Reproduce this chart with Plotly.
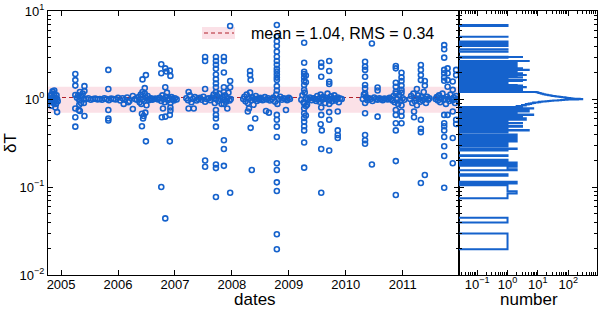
import numpy as np
import plotly.graph_objects as go

# ---------------- data ----------------
MEAN = 1.04
RMS = 0.34
BIN_W = 0.005          # linear histogram bin width in dT

# outlying measurements (date in decimal years, dT)
out_dates = ([2004.93, 2004.85, 2004.90, 2004.83, 2004.88]
             + [2005.25] * 7 + [2005.33, 2005.33, 2005.31] + [2005.41] * 3 + [2005.40]
             + [2005.83] * 5 + [2006.10, 2006.26, 2006.26, 2006.18]
             + [2006.43, 2006.49, 2006.47, 2006.42, 2006.45, 2006.48, 2006.44, 2006.42, 2006.49]
             + [2006.76, 2006.76, 2006.83, 2006.85, 2006.91, 2006.92, 2006.83, 2006.79, 2006.77,
                2006.83, 2006.91, 2006.92, 2006.92, 2006.91, 2006.76, 2006.83]
             + [2007.24, 2007.24, 2007.33] + [2007.53] * 5 + [2007.72] * 16 + [2007.86] * 9
             + [2007.97] * 4 + [2007.92]
             + [2008.32, 2008.32, 2008.33, 2008.33, 2008.35, 2008.41, 2008.30, 2008.28]
             + [2008.79] * 23 + [2008.60, 2008.65, 2008.95]
             + [2009.27] * 17 + [2009.30] * 4 + [2009.57] * 7 + [2009.56, 2009.58]
             + [2009.71] * 8 + [2009.86] * 4
             + [2010.34] * 11 + [2010.46] * 2 + [2010.56] * 3 + [2010.88] * 11 + [2010.98] * 9
             + [2011.32] * 8 + [2011.39] * 3 + [2011.20] * 2 + [2011.25]
             + [2011.73] * 15 + [2011.79] * 5 + [2011.88] * 5 + [2011.94] * 4)

out_dT = ([0.71, 1.22, 0.80, 0.84, 1.25]
          + [1.92, 1.64, 1.42, 1.11, 0.78, 0.62, 0.485] + [1.20, 0.73, 0.75] + [1.40, 1.23, 0.64] + [0.90]
          + [2.14, 1.30, 0.75, 0.60, 0.57] + [0.88, 1.08, 0.77, 0.92]
          + [1.67, 1.87, 1.33, 0.68, 0.64, 0.70, 0.60, 0.49, 0.33]
          + [2.48, 1.96, 2.23, 2.05, 2.10, 1.83, 1.36, 0.78, 0.62,
             0.63, 0.66, 0.74, 0.80, 0.33, 0.10, 0.044]
          + [1.20, 0.78, 0.78] + [3.00, 2.70, 1.30, 0.20, 0.17]
          + [3.00, 2.70, 2.45, 2.20, 1.90, 1.68, 1.50, 1.36, 1.20, 0.75, 0.66, 0.60, 0.485, 0.18, 0.164, 0.077]
          + [3.00, 2.70, 2.00, 1.36, 1.20, 0.88, 0.34, 0.27, 0.174]
          + [6.75, 1.60, 1.36, 0.086] + [0.78]
          + [2.08, 1.87, 1.65, 0.47, 0.156, 0.60, 0.78, 0.72]
          + [6.93, 5.10, 4.50, 4.00, 3.45, 3.02, 2.70, 2.45, 2.20, 2.05, 1.90, 1.75, 1.64, 1.40,
             1.25, 0.66, 0.58, 0.485, 0.37, 0.186, 0.156, 0.113, 0.090]
          + [0.73, 0.70, 0.75]
          + [4.36, 2.58, 2.04, 1.92, 1.76, 1.61, 1.44, 1.27, 0.89, 0.78, 0.69, 0.61, 0.55, 0.49, 0.44, 0.32, 0.166]
          + [1.85, 1.55, 0.83, 0.65]
          + [2.58, 2.33, 1.79, 0.80, 0.66, 0.086, 0.27] + [0.516, 0.44]
          + [2.70, 2.08, 1.57, 1.48, 0.88, 0.71, 0.58, 0.26] + [0.72, 0.44, 0.39, 0.36]
          + [2.65, 2.33, 2.14, 1.79, 1.44, 1.32, 1.16, 0.69, 0.39, 0.34, 0.31] + [4.27, 0.18]
          + [1.35, 1.25, 0.63]
          + [2.37, 2.23, 1.53, 1.38, 1.21, 0.75, 0.66, 0.53, 0.44, 0.197, 0.081]
          + [1.99, 1.76, 1.60, 1.42, 1.27, 0.85, 0.72, 0.64, 0.53]
          + [2.43, 2.14, 1.87, 1.64, 0.58, 0.46, 0.42, 0.111] + [0.137, 1.60, 1.42] + [0.72, 0.62] + [1.30]
          + [4.10, 3.67, 2.95, 2.14, 1.96, 1.76, 1.61, 0.66, 0.53, 0.49, 0.44, 0.37, 0.29, 0.225, 0.098]
          + [2.23, 1.96, 1.64, 1.38, 0.66] + [1.58, 1.27, 0.72, 0.36, 0.186] + [2.14, 1.87, 0.58, 0.52])

# the two lowest 2008.79 points
low_dates = [2008.79, 2008.79]
low_dT = [0.029, 0.0196]

# dense core of measurements near dT = 1
core_dates = ([2004.79, 2004.80, 2004.81, 2004.82, 2004.83, 2004.84, 2004.85, 2004.86, 2004.87, 2004.88,
               2004.89, 2004.90, 2004.91, 2004.92, 2004.93, 2004.94]
              + [2005.28, 2005.32, 2005.36, 2005.40, 2005.44, 2005.48, 2005.52, 2005.56, 2005.60, 2005.64,
                 2005.68, 2005.72, 2005.76, 2005.80, 2005.84, 2005.88, 2005.92, 2005.96, 2006.00, 2006.04,
                 2006.08, 2006.12, 2006.16, 2006.20, 2005.30, 2005.35, 2005.38, 2005.32]
              + [2006.30, 2006.33, 2006.36, 2006.38, 2006.40, 2006.41, 2006.43, 2006.44, 2006.46, 2006.47,
                 2006.49, 2006.50, 2006.52, 2006.54, 2006.56, 2006.58, 2006.60, 2006.63, 2006.66, 2006.70,
                 2006.73, 2006.76, 2006.78, 2006.80, 2006.82, 2006.84, 2006.86, 2006.88, 2006.90, 2006.92,
                 2006.94, 2006.96, 2006.98, 2007.00, 2007.03]
              + [2007.20, 2007.23, 2007.26, 2007.29, 2007.32, 2007.35, 2007.38, 2007.41, 2007.44, 2007.47,
                 2007.50, 2007.53, 2007.56, 2007.59, 2007.62, 2007.65, 2007.68, 2007.70, 2007.72, 2007.74,
                 2007.76, 2007.78, 2007.80, 2007.82, 2007.84, 2007.86, 2007.88, 2007.90, 2007.92, 2007.94,
                 2007.96, 2007.98]
              + [2008.20, 2008.22, 2008.24, 2008.26, 2008.28, 2008.30, 2008.32, 2008.34, 2008.36, 2008.38,
                 2008.40, 2008.42, 2008.44, 2008.46, 2008.48, 2008.50, 2008.52, 2008.54, 2008.58, 2008.61,
                 2008.64, 2008.67, 2008.70, 2008.73, 2008.76, 2008.78, 2008.80, 2008.82, 2008.85, 2008.88,
                 2008.91, 2008.94, 2008.97, 2009.00, 2009.02]
              + [2009.22, 2009.24, 2009.26, 2009.28, 2009.30, 2009.32, 2009.34, 2009.37, 2009.40, 2009.43,
                 2009.46, 2009.48, 2009.50, 2009.52, 2009.54, 2009.56, 2009.58, 2009.60, 2009.62, 2009.64,
                 2009.66, 2009.68, 2009.70, 2009.72, 2009.74, 2009.76, 2009.78, 2009.80, 2009.82, 2009.84,
                 2009.86, 2009.88, 2009.90, 2009.93]
              + [2010.30, 2010.32, 2010.34, 2010.36, 2010.38, 2010.41, 2010.44, 2010.47, 2010.50, 2010.53,
                 2010.56, 2010.59, 2010.62, 2010.65, 2010.68, 2010.71, 2010.74, 2010.77, 2010.80, 2010.82,
                 2010.84, 2010.86, 2010.88, 2010.90, 2010.92, 2010.94, 2010.96, 2010.98, 2011.00, 2011.03]
              + [2011.13, 2011.15, 2011.17, 2011.19, 2011.21, 2011.23, 2011.25, 2011.27, 2011.29, 2011.31,
                 2011.33, 2011.35, 2011.37, 2011.39, 2011.41, 2011.43, 2011.45, 2011.47]
              + [2011.58, 2011.60, 2011.62, 2011.64, 2011.66, 2011.68, 2011.70, 2011.72, 2011.74, 2011.76,
                 2011.78, 2011.80, 2011.82, 2011.84, 2011.86, 2011.88, 2011.90, 2011.92, 2011.94, 2011.96,
                 2011.98])

core_dT = ([1.02, 0.95, 1.08, 0.98, 1.12, 0.92, 1.00, 1.05, 0.90, 1.15, 0.97, 1.03, 0.88, 1.10, 1.00, 0.94]
           + [1.03, 0.97, 1.06, 0.99, 1.00, 1.02, 0.98, 1.00, 1.01, 0.99, 1.00, 0.98, 1.02, 1.00, 0.97, 1.01,
              1.00, 0.99, 1.03, 0.96, 1.02, 0.98, 1.04, 0.95, 1.10, 0.90, 1.15, 0.86]
           + [1.00, 0.98, 1.05, 0.92, 1.12, 0.88, 1.20, 1.00, 0.95, 1.15, 1.03, 0.85, 1.08, 0.97, 1.00, 1.02,
              0.98, 1.00, 1.01, 0.99, 1.03, 0.95, 1.10, 1.00, 0.92, 1.06, 1.18, 0.97, 1.02, 0.90, 1.05, 1.00,
              0.96, 1.02, 0.99]
           + [1.02, 0.97, 1.10, 0.92, 1.00, 1.05, 0.96, 1.00, 1.03, 0.98, 1.06, 0.93, 1.00, 1.02, 0.97, 1.04,
              1.12, 0.90, 1.00, 1.08, 0.95, 1.15, 1.00, 0.88, 1.05, 0.98, 1.10, 0.93, 1.02, 1.18, 0.96, 1.00]
           + [1.00, 1.06, 0.94, 1.12, 0.90, 1.02, 1.18, 0.97, 1.04, 0.86, 1.00, 1.08, 0.95, 1.01, 0.98, 1.03,
              1.00, 0.97, 1.05, 0.99, 1.02, 0.96, 1.00, 1.04, 0.93, 1.12, 0.88, 1.00, 1.06, 0.98, 1.02, 1.00,
              0.97, 1.03, 1.00]
           + [0.98, 1.10, 0.92, 1.18, 1.02, 0.86, 1.00, 1.04, 0.97, 1.02, 1.00, 0.95, 1.08, 1.00, 0.93, 1.12,
              0.98, 1.05, 1.00, 0.90, 1.03, 1.15, 0.97, 1.00, 1.07, 0.94, 1.02, 1.10, 0.96, 1.00, 1.04, 0.92,
              1.01, 1.00]
           + [1.00, 1.12, 0.90, 1.05, 0.97, 1.02, 1.00, 0.95, 1.04, 1.00, 0.98, 1.02, 1.00, 0.97, 1.01, 1.00,
              0.99, 1.03, 1.00, 0.96, 1.08, 0.92, 1.15, 1.00, 0.88, 1.10, 0.95, 1.18, 1.02, 0.98]
           + [1.00, 1.08, 0.90, 1.15, 0.95, 1.02, 0.85, 1.10, 1.00, 0.93, 1.05, 0.97, 1.20, 1.00, 0.90, 1.06,
              0.98, 1.02]
           + [1.00, 1.05, 0.96, 1.10, 0.92, 1.02, 1.15, 0.98, 1.00, 0.88, 1.06, 1.00, 0.95, 1.12, 1.00, 0.97,
              1.04, 0.90, 1.08, 1.00, 0.96])

# histogram counts of the crowded core (bins of 0.005 starting at dT = 0.81)
core_lo = 0.81
core_counts = [2, 3, 2, 3, 2, 3, 3, 4, 3, 4, 4, 5, 4, 5, 6, 5, 6, 7, 8, 7,
               9, 10, 12, 11, 14, 16, 18, 22, 26, 32, 38, 46, 58, 72, 95, 140, 210, 290, 240, 180,
               150, 130, 115, 105, 95, 85, 78, 70, 62, 55, 48, 44, 40, 36, 33, 30, 28, 26, 24, 22,
               21, 20, 18, 17, 16, 15, 15, 14, 13, 13, 12, 12, 11, 11, 10, 10, 9, 9]

year_ticks = [2005, 2006, 2007, 2008, 2009, 2010, 2011]
date_range = [2004.77, 2011.99]
dT_ticks = [0.01, 0.1, 1, 10]
dT_labels = ["10<sup>−2</sup>", "10<sup>−1</sup>", "10<sup>0</sup>", "10<sup>1</sup>"]
n_ticks = [0.1, 1, 10, 100]
n_labels = ["10<sup>−1</sup>", "10<sup>0</sup>", "10<sup>1</sup>", "10<sup>2</sup>"]

# ---------------- figure ----------------
BLUE = "#1562CC"
FONT = "Liberation Sans, Arial, sans-serif"
W, H = 600, 309
T, B = 11, 34
PH = H - T - B


def px_x(p):
    return p / W


def px_y(p):
    return (H - B - p) / PH


all_dates = out_dates + low_dates + core_dates
all_dT = out_dT + low_dT + core_dT

# histogram (linear bins) of all values, core overridden by read counts
vals = np.array(all_dT)
lo = vals.min()
nb = int(np.ceil((vals.max() - lo) / BIN_W)) + 1
edges = lo + BIN_W * np.arange(nb + 1)
counts, _ = np.histogram(vals, bins=edges)
counts = counts.astype(float)
k0 = int(round((core_lo - lo) / BIN_W))
for i, c in enumerate(core_counts):
    counts[k0 + i] = c

FLOOR = 1e-3
hx, hy = [FLOOR], [edges[0]]
for k, c in enumerate(counts):
    v = c if c > 0 else FLOOR
    hx += [v, v]
    hy += [edges[k], edges[k + 1]]
hx.append(FLOOR)
hy.append(edges[-1])

fig = go.Figure()
fig.add_trace(go.Scatter(x=date_range, y=[MEAN, MEAN], mode="lines",
                         line=dict(color="#B0202A", width=1, dash="4px,3px"),
                         showlegend=False, hoverinfo="skip", xaxis="x", yaxis="y"))
fig.add_trace(go.Scatter(x=all_dates, y=all_dT, mode="markers",
                         marker=dict(symbol="circle-open", size=5, color=BLUE,
                                     line=dict(width=1.6, color=BLUE)),
                         showlegend=False, xaxis="x", yaxis="y"))
fig.add_trace(go.Scatter(x=hx, y=hy, mode="lines",
                         line=dict(color=BLUE, width=2, simplify=False),
                         showlegend=False, hoverinfo="skip", xaxis="x2", yaxis="y2"))

minor_dT = [m * 10.0 ** k for k in (-2, -1, 0) for m in range(2, 10)]
minor_n = [m * 10.0 ** k for k in (-2, -1, 0, 1, 2) for m in range(2, 10)]

axis_common = dict(showline=True, linecolor="black", linewidth=1, mirror="allticks",
                   ticks="inside", ticklen=5, tickwidth=1, tickcolor="black",
                   showgrid=False, zeroline=False,
                   tickfont=dict(family=FONT, size=13, color="black"))

fig.update_layout(
    width=W, height=H,
    margin=dict(l=0, r=0, t=T, b=B),
    paper_bgcolor="white", plot_bgcolor="white",
    xaxis=dict(domain=[px_x(48), px_x(459)], range=date_range, tickvals=year_ticks,
               ticktext=[str(y) for y in year_ticks], anchor="y", ticklabelstandoff=-3,
               **axis_common),
    yaxis=dict(domain=[0, 1], type="log", range=[-2, 1], tickvals=dT_ticks, ticktext=dT_labels,
               anchor="x",
               minor=dict(tickvals=minor_dT, ticks="inside", ticklen=3, tickcolor="black"),
               **axis_common),
    xaxis2=dict(domain=[px_x(459), px_x(597)], type="log", range=[-1.6, 2.95],
                tickvals=n_ticks, ticktext=n_labels, anchor="y2", ticklabelstandoff=-3,
                minor=dict(tickvals=minor_n, ticks="inside", ticklen=3, tickcolor="black"),
                **axis_common),
    yaxis2=dict(domain=[0, 1], type="log", range=[-2, 1], matches="y", anchor="x2",
                showticklabels=False, tickvals=dT_ticks,
                minor=dict(tickvals=minor_dT, ticks="inside", ticklen=3, tickcolor="black"),
                **axis_common),
    shapes=[
        dict(type="rect", xref="x", yref="y", x0=date_range[0], x1=date_range[1],
             y0=MEAN - RMS, y1=MEAN + RMS, fillcolor="#FBE1E7", line=dict(width=0), layer="below"),
        dict(type="rect", xref="paper", yref="paper", x0=px_x(202), x1=px_x(235),
             y0=px_y(39), y1=px_y(27), fillcolor="#FBE1E7", line=dict(width=0), layer="below"),
        dict(type="line", xref="paper", yref="paper", x0=px_x(204), x1=px_x(234),
             y0=px_y(33), y1=px_y(33), line=dict(color="#B0202A", width=1, dash="4px,3px")),
    ],
    annotations=[
        dict(text=f"mean = {MEAN:.2f}, RMS = {RMS:.2f}", xref="paper", yref="paper",
             x=px_x(249), y=px_y(33), xanchor="left", yanchor="middle", showarrow=False,
             font=dict(family=FONT, size=16, color="black")),
        dict(text="dates", xref="paper", yref="paper", x=px_x(255), y=px_y(299),
             xanchor="center", yanchor="middle", showarrow=False,
             font=dict(family=FONT, size=17, color="black")),
        dict(text="number", xref="paper", yref="paper", x=px_x(529), y=px_y(299),
             xanchor="center", yanchor="middle", showarrow=False,
             font=dict(family=FONT, size=17, color="black")),
        dict(text="δT", xref="paper", yref="paper", x=px_x(10), y=px_y(143),
             xanchor="center", yanchor="middle", showarrow=False, textangle=-90,
             font=dict(family=FONT, size=17, color="black")),
    ],
)

fig.write_html("out.html", config={"displayModeBar": False},
               post_script="document.body.style.margin='0';document.body.style.overflow='hidden';")
